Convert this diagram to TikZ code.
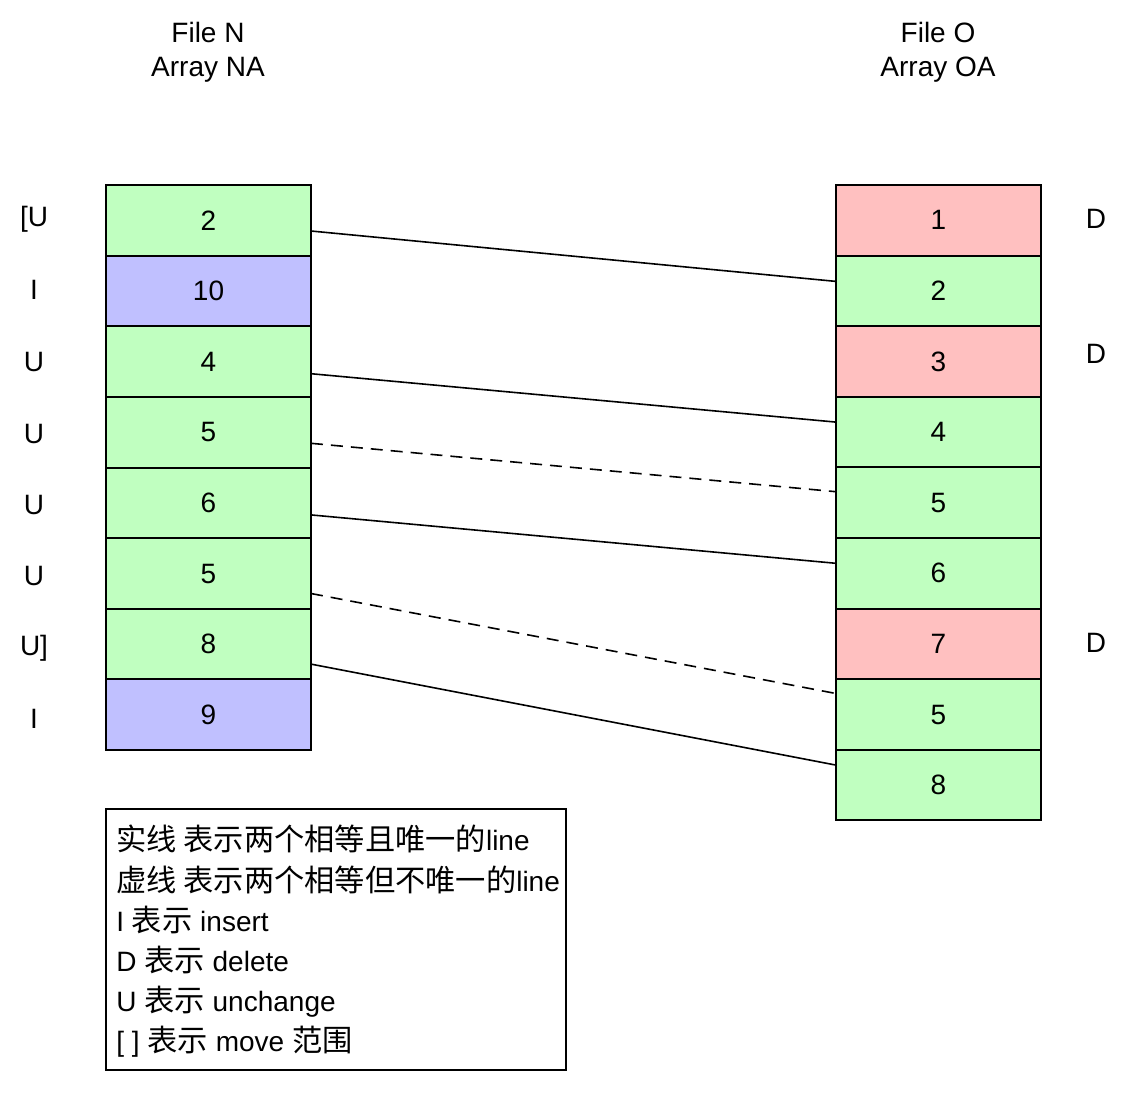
\documentclass[tikz,border=0pt]{standalone}
\usepackage{fontspec}
\setmainfont{Liberation Sans}
\newfontfamily\cjk[Scale=1.08]{Noto Sans CJK SC}
\usetikzlibrary{positioning}

\definecolor{samegreen}{HTML}{C0FFC0}
\definecolor{insblue}{HTML}{C0C0FF}
\definecolor{delred}{HTML}{FFC0C0}

\tikzset{cell/.style = {draw, line width=1pt, minimum width=102.5pt, minimum height=35.3pt,
                        inner sep=0pt, outer sep=0pt, font=\fontsize{14}{17}\selectfont},
         same/.style = {cell, fill=samegreen},
         ins/.style  = {cell, fill=insblue},
         del/.style  = {cell, fill=delred},
         oplabel/.style = {font=\fontsize{14}{17}\selectfont, inner sep=0pt},
         match/.style = {line width=0.8pt},
         maybe/.style = {match, dash pattern=on 6pt off 4pt},
        }

\begin{document}
\begin{tikzpicture}[x=0.5pt, y=-0.5pt]
  \useasboundingbox (0,0) rectangle (1138,1098);

  % titles
  \node[oplabel, align=center] (ntitle) at (208,52) {File N\\Array NA};
  \node[oplabel, align=center] (otitle) at (938,52) {File O\\Array OA};

  % array NA
  \node[same] (n1) at (208.5,220.5) {2};
  \node[ins,  below=0pt of n1] (n2) {10};
  \node[same, below=0pt of n2] (n3) {4};
  \node[same, below=0pt of n3] (n4) {5};
  \node[same, below=0pt of n4] (n5) {6};
  \node[same, below=0pt of n5] (n6) {5};
  \node[same, below=0pt of n6] (n7) {8};
  \node[ins,  below=0pt of n7] (n8) {9};

  % array OA
  \node[del]  (o1) at (938.5,220.3) {1};
  \node[same, below=0pt of o1] (o2) {2};
  \node[del,  below=0pt of o2] (o3) {3};
  \node[same, below=0pt of o3] (o4) {4};
  \node[same, below=0pt of o4] (o5) {5};
  \node[same, below=0pt of o5] (o6) {6};
  \node[del,  below=0pt of o6] (o7) {7};
  \node[same, below=0pt of o7] (o8) {5};
  \node[same, below=0pt of o8] (o9) {8};

  % operation labels
  \node[oplabel] (u1) at (34,219) {[U};
  \node[oplabel] (u2) at (34,290) {I};
  \node[oplabel] (u3) at (34,362) {U};
  \node[oplabel] (u4) at (34,434) {U};
  \node[oplabel] (u5) at (34,505) {U};
  \node[oplabel] (u6) at (34,576) {U};
  \node[oplabel] (u7) at (34,648) {U]};
  \node[oplabel] (u8) at (34,719) {I};
  \node[oplabel] (d1) at (1096,219) {D};
  \node[oplabel] (d3) at (1096,354) {D};
  \node[oplabel] (d7) at (1096,643) {D};

  % matching lines
  \draw[match] ([yshift=-5.25pt]n1.east) -- ([yshift=4.75pt]o2.west);
  \draw[match] ([yshift=-6pt]n3.east)    -- ([yshift=5pt]o4.west);
  \draw[maybe] ([yshift=-5.5pt]n4.east)  -- ([yshift=5.5pt]o5.west);
  \draw[match] ([yshift=-6pt]n5.east)    -- ([yshift=5pt]o6.west);
  \draw[maybe] ([yshift=-10pt]n6.east)   -- ([yshift=10.5pt]o8.west);
  \draw[match] ([yshift=-10pt]n7.east)   -- ([yshift=10pt]o9.west);

  % legend
  \node[draw, line width=0.8pt, minimum width=230pt, minimum height=130.5pt,
        inner sep=0pt, outer sep=0pt] (key) at (336,939.5) {};
  \node[oplabel, align=left, anchor=west, font=\fontsize{14}{20.1}\selectfont]
       (keytxt) at ([xshift=5pt,yshift=-1pt]key.west)
       {{\cjk 实线 表示两个相等且唯一的}line\\
        {\cjk 虚线 表示两个相等但不唯一的}line\\
        I {\cjk 表示} insert\\
        D {\cjk 表示} delete\\
        U {\cjk 表示} unchange\\
        {[} {]} {\cjk 表示} move {\cjk 范围}};
\end{tikzpicture}
\end{document}
